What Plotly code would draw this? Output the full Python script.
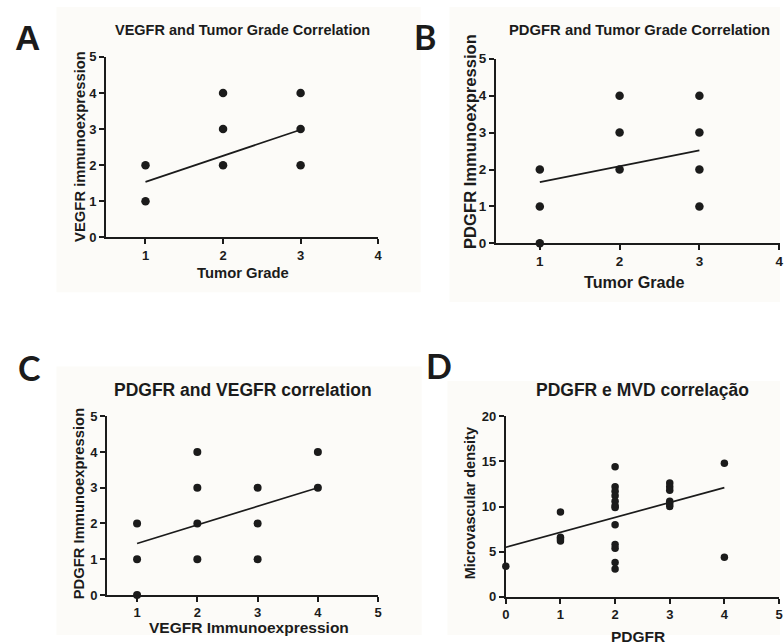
import plotly.graph_objects as go

W, H = 784, 643

# ---------------- data ----------------
a_x = [1, 1, 2, 2, 2, 3, 3, 3]
a_y = [1, 2, 2, 3, 4, 2, 3, 4]
a_fit_x = [1, 3]
a_fit_y = [1.54, 2.98]

b_x = [1, 1, 1, 2, 2, 2, 3, 3, 3, 3]
b_y = [0, 1, 2, 2, 3, 4, 1, 2, 3, 4]
b_fit_x = [1, 3]
b_fit_y = [1.66, 2.52]

c_x = [1, 1, 1, 2, 2, 2, 2, 3, 3, 3, 4, 4]
c_y = [0, 1, 2, 1, 2, 3, 4, 1, 2, 3, 3, 4]
c_fit_x = [1, 4]
c_fit_y = [1.44, 3.0]

d_x = [0,
       1, 1, 1, 1,
       2, 2, 2, 2, 2, 2, 2, 2, 2, 2, 2, 2,
       3, 3, 3, 3, 3, 3,
       4, 4]
d_y = [3.4,
       9.4, 6.6, 6.4, 6.2,
       14.4, 12.2, 11.7, 11.2, 10.6, 10.1, 9.9, 8.0, 5.8, 5.4, 3.8, 3.1,
       12.6, 12.2, 11.8, 10.6, 10.3, 10.0,
       14.8, 4.4]
d_fit_x = [0, 4]
d_fit_y = [5.5, 12.1]

titles = ["VEGFR and Tumor Grade Correlation", "PDGFR and Tumor Grade Correlation",
          "PDGFR and VEGFR correlation", "PDGFR e MVD correlação"]
x_titles = ["Tumor Grade", "Tumor Grade", "VEGFR Immunoexpression", "PDGFR"]
y_titles = ["VEGFR immunoexpression", "PDGFR Immunoexpression",
            "PDGFR Immunoexpression", "Microvascular density"]
panel_letters = ["A", "B", "C", "D"]

a_xticks = [1, 2, 3, 4]
b_xticks = [1, 2, 3, 4]
c_xticks = [1, 2, 3, 4, 5]
d_xticks = [0, 1, 2, 3, 4, 5]
grade_yticks = [0, 1, 2, 3, 4, 5]
d_yticks = [0, 5, 10, 15, 20]

# --------------- helpers ---------------
def px_x(p):
    return p / W

def px_y(p):
    return 1 - p / H

INK = "#1b1b1b"
ARIAL = "Liberation Sans, Arial, sans-serif"
CAL = "Lato, Liberation Sans, sans-serif"

fig = go.Figure()

panels = [
    # (x, y, fitx, fity, xdomain px, ydomain px, xrange, yrange, xticks, yticks, msize, tickfont)
    (a_x, a_y, a_fit_x, a_fit_y, (103, 378), (51, 236), [0.49, 4.0], [0, 5], a_xticks, grade_yticks, 8.5, 13),
    (b_x, b_y, b_fit_x, b_fit_y, (497, 784), (53, 242), [0.45, 4.01], [0, 5], b_xticks, grade_yticks, 8.5, 13.5),
    (c_x, c_y, c_fit_x, c_fit_y, (104, 378), (419, 602), [0.5, 5.0], [0, 5], c_xticks, grade_yticks, 8, 13),
    (d_x, d_y, d_fit_x, d_fit_y, (507, 783), (419, 604), [0, 5.0], [0, 20], d_xticks, d_yticks, 7.5, 13),
]

# light backgrounds of the pasted panels
bgs = [(53, 0, 421, 292), (450, 0, 784, 302), (53, 368, 422, 643), (448, 383, 784, 643)]
shapes = []
for (x0, y0, x1, y1) in bgs:
    shapes.append(dict(type="rect", xref="paper", yref="paper",
                       x0=px_x(x0), x1=px_x(x1), y0=px_y(y1), y1=px_y(y0),
                       fillcolor="#fcfbf8", line=dict(width=0), layer="below"))

for i, (xs, ys, fx, fy, xd, yd, xr, yr, xt, yt, ms, tf) in enumerate(panels):
    n = "" if i == 0 else str(i + 1)
    fig.add_trace(go.Scatter(x=xs, y=ys, mode="markers", xaxis="x" + n, yaxis="y" + n,
                             marker=dict(color=INK, size=ms, symbol="circle"),
                             cliponaxis=False, showlegend=False))
    fig.add_trace(go.Scatter(x=fx, y=fy, mode="lines", xaxis="x" + n, yaxis="y" + n,
                             line=dict(color=INK, width=1.7), cliponaxis=False, showlegend=False))
    axis_common = dict(showgrid=False, zeroline=False, showline=True, linecolor=INK, linewidth=1.8,
                       ticks="outside", ticklen=5, tickwidth=1.6, tickcolor=INK,
                       tickfont=dict(family=ARIAL, size=tf, color=INK, weight="bold"),
                       fixedrange=True)
    fig.update_layout(**{
        "xaxis" + n: dict(domain=[px_x(xd[0]), min(px_x(xd[1]), 1.0)], range=xr,
                          tickvals=xt, anchor="y" + n, **axis_common),
        "yaxis" + n: dict(domain=[px_y(yd[1]), px_y(yd[0])], range=yr,
                          tickvals=yt, anchor="x" + n, **axis_common),
    })

annotations = []

def text(t, x, y, size, family=ARIAL, angle=0, xanchor="center", yanchor="middle"):
    annotations.append(dict(text=t, x=px_x(x), y=px_y(y), xref="paper", yref="paper",
                            showarrow=False, textangle=angle, xanchor=xanchor, yanchor=yanchor,
                            font=dict(family=family, size=size, color=INK, weight="bold")))

# panel titles
text(titles[0], 241, 24, 14.5)
text(titles[1], 642, 24, 14.8)
text(titles[2], 241, 392, 17.5)
text(titles[3], 645, 392, 17.5)

# axis titles
text(x_titles[0], 241, 272, 14.8)
text(y_titles[0], 76, 143, 14.8, angle=-90)
text(x_titles[1], 636, 282, 16.2)
text(y_titles[1], 472, 138, 16.6, angle=-90)
text(x_titles[2], 248, 635, 15.5)
text(y_titles[2], 76, 508, 14.8, angle=-90)
text(x_titles[3], 641, 645, 15.5)
text(y_titles[3], 471, 508, 14.5, angle=-90)

# panel letters
text(panel_letters[0], 24, 31, 35)
text(panel_letters[1], 425, 30, 34, family=CAL)
text(panel_letters[2], 26, 369, 34, family=CAL)
text(panel_letters[3], 439, 367, 34, family=CAL)

fig.update_layout(width=W, height=H, margin=dict(l=0, r=0, t=0, b=0),
                  paper_bgcolor="white", plot_bgcolor="rgba(0,0,0,0)",
                  annotations=annotations, shapes=shapes, showlegend=False)

fig.write_html("out.html", config={"displayModeBar": False},
               post_script="document.body.style.margin='0';document.body.style.overflow='hidden';")
